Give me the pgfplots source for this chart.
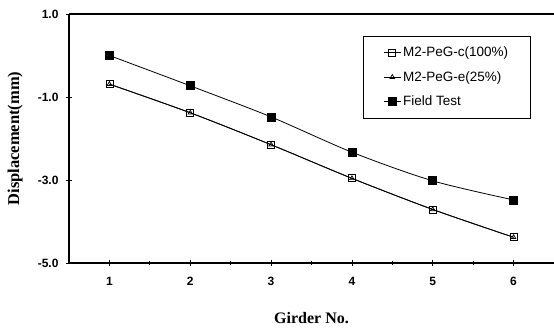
\documentclass[border=0pt]{standalone}
\usepackage{pgfplots}
\pgfplotsset{compat=1.18}
\usepackage{fontspec}
\setmainfont{Liberation Serif}
\newfontfamily\arial{Liberation Sans}
\begin{document}
\begin{tikzpicture}
\useasboundingbox (-69bp,-68bp) rectangle (485bp,263bp);
\begin{axis}[
  at={(0,0)}, anchor=south west,
  scale only axis, width=485bp, height=249bp,
  xmin=0.5, xmax=6.5, ymin=-5, ymax=1,
  axis x line*=box, axis y line*=left,
  axis line style={line width=1.5bp},
  xtick={1,2,3,4,5,6}, minor x tick num=1,
  ytick={1,-1,-3,-5},
  xtick pos=left, ytick pos=left,
  tick align=center,
  major tick length=6bp, minor tick length=4bp,
  tick style={black, line width=0.8bp},
  /pgf/number format/assume math mode=true,
  yticklabel style={/pgf/number format/fixed, /pgf/number format/fixed zerofill, /pgf/number format/precision=1, font=\arial\bfseries\fontsize{12bp}{13bp}\selectfont, xshift=-4bp},
  xticklabel style={font=\arial\bfseries\fontsize{12bp}{13bp}\selectfont, yshift=-8bp},
  xlabel={Girder No.}, ylabel={Displacement(mm)},
  xlabel style={at={(axis description cs:0.5,-0.221)}, anchor=center, font=\bfseries\fontsize{16bp}{18bp}\selectfont},
  ylabel style={at={(axis description cs:-0.111,0.5)}, anchor=center, font=\bfseries\fontsize{16.5bp}{18bp}\selectfont},
  legend style={at={(0.779,0.912)}, anchor=north, draw=black, line width=0.6bp,
    font=\arial\fontsize{13.5bp}{15bp}\selectfont, inner xsep=20bp, inner ysep=9bp, row sep=9bp},
  legend cell align=left,
]
\addplot[black, line width=0.8bp, smooth, mark=square, mark size=3.5bp, mark options={fill=white, line width=0.8bp}]
  coordinates {(1,-0.69) (2,-1.38) (3,-2.15) (4,-2.96) (5,-3.71) (6,-4.38)};
\addlegendentry{M2-PeG-c(100\%)}
\addplot[black, line width=0.8bp, smooth, mark=triangle, mark size=2.6bp, mark options={line width=0.7bp}]
  coordinates {(1,-0.69) (2,-1.38) (3,-2.15) (4,-2.96) (5,-3.71) (6,-4.38)};
\addlegendentry{M2-PeG-e(25\%)}
\addplot[black, line width=0.8bp, smooth, mark=square*, mark size=4bp]
  coordinates {(1,0.0) (2,-0.73) (3,-1.48) (4,-2.33) (5,-3.02) (6,-3.48)};
\addlegendentry{Field Test}
\end{axis}
\end{tikzpicture}
\end{document}
